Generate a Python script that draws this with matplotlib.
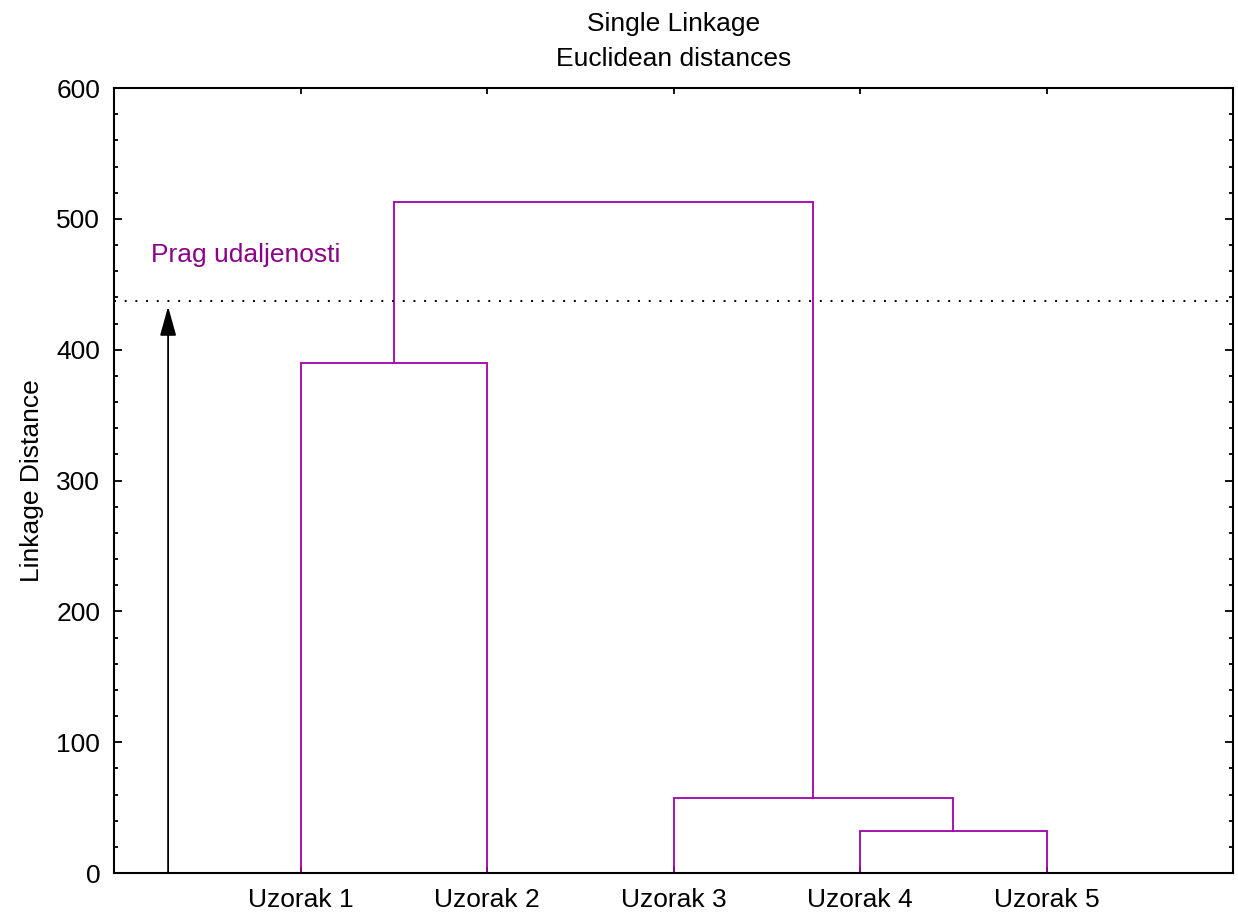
import matplotlib.pyplot as plt
from matplotlib.ticker import MultipleLocator

plt.rcParams['font.family'] = ['Liberation Sans', 'DejaVu Sans']

# samples and single-linkage merges (left cluster, right cluster, distance)
labels = ['Uzorak 1', 'Uzorak 2', 'Uzorak 3', 'Uzorak 4', 'Uzorak 5']
merge_left = [0, 3, 2, 5]
merge_right = [1, 4, 6, 7]
merge_dist = [390, 32, 57, 513]
threshold = 437
threshold_label = 'Prag udaljenosti'

line_col = '#a000a8'
text_col = '#8b008b'
fs = 19

fig = plt.figure(figsize=(12.38, 9.13), dpi=100)
ax = fig.add_axes([0.0921, 0.0438, 0.9039, 0.8598])

# cluster node positions: leaves first, then merged nodes
xpos = [i + 1 for i in range(len(labels))]
ypos = [0] * len(labels)
for a, b, d in zip(merge_left, merge_right, merge_dist):
    ax.plot([xpos[a], xpos[a], xpos[b], xpos[b]], [ypos[a], d, d, ypos[b]],
            color=line_col, lw=1.3, solid_joinstyle='miter')
    xpos.append((xpos[a] + xpos[b]) / 2)
    ypos.append(d)

# threshold line with arrow
ax.axhline(threshold, color='black', ls=(0, (1, 4.5)), lw=1.4)
ax.annotate('', xy=(0.29, threshold - 4), xytext=(0.29, 0),
            arrowprops=dict(arrowstyle='-|>,head_length=0.9,head_width=0.25',
                            color='black', lw=1.3, mutation_scale=20,
                            shrinkA=0, shrinkB=0))
ax.text(0.2, 472, threshold_label, color=text_col, fontsize=fs, va='center')

ax.set_xlim(0, len(labels) + 1)
ax.set_ylim(0, 600)
ax.set_xticks(range(1, len(labels) + 1))
ax.set_xticklabels(labels)
ax.yaxis.set_major_locator(MultipleLocator(100))
ax.yaxis.set_minor_locator(MultipleLocator(20))
ax.tick_params(direction='in', which='both', top=True, right=True,
               labelsize=fs, width=1.3)
ax.tick_params(which='major', length=6)
ax.tick_params(axis='y', which='major', pad=10)
ax.tick_params(which='minor', length=3)
ax.tick_params(axis='x', length=4, pad=11)
for s in ax.spines.values():
    s.set_linewidth(1.5)

ax.set_ylabel('Linkage Distance', fontsize=fs, labelpad=9)
ax.set_title('Single Linkage\nEuclidean distances', fontsize=fs, pad=16,
             linespacing=1.55)

fig.savefig('out.png', dpi=100)
